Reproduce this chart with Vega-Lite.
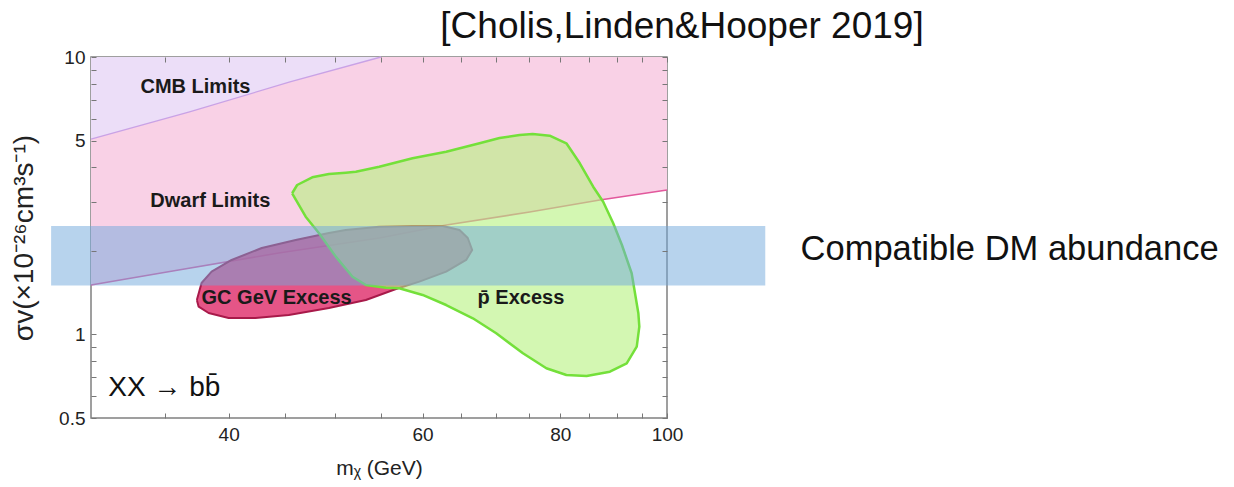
{
  "$schema": "https://vega.github.io/schema/vega-lite/v6.json",
  "width": 576,
  "height": 361,
  "autosize": {"type": "none"},
  "padding": {"left": 91, "top": 57, "right": 567, "bottom": 69},
  "background": "white",
  "title": {"text": "[Cholis,Linden&Hooper 2019]", "fontSize": 37, "font": "Liberation Sans", "fontWeight": "normal", "color": "#111111", "anchor": "middle", "dx": 303, "offset": 2},
  "config": {
    "view": {"stroke": "#808080", "strokeWidth": 1.5},
    "font": "Liberation Sans"
  },
  "resolve": {"axis": {"x": "independent", "y": "independent"}},
  "datasets": {
    "cmb": [
      {"m": 30, "s": 5.06, "hi": 10},
      {"m": 36.86, "s": 6.34, "hi": 10},
      {"m": 45.47, "s": 8.13, "hi": 10},
      {"m": 55.0, "s": 10, "hi": 10}
    ],
    "dwarf": [
      {"m": 30, "s": 1.508, "hi": 10},
      {"m": 36.03, "s": 1.708, "hi": 10},
      {"m": 44.42, "s": 1.966, "hi": 10},
      {"m": 54.8, "s": 2.227, "hi": 10},
      {"m": 63.05, "s": 2.48, "hi": 10},
      {"m": 75.05, "s": 2.763, "hi": 10},
      {"m": 86.9, "s": 3.053, "hi": 10},
      {"m": 100, "s": 3.317, "hi": 10}
    ],
    "gc": [
      {"i": 0, "m": 37.43, "s": 1.331},
      {"i": 1, "m": 37.57, "s": 1.259},
      {"i": 2, "m": 38.36, "s": 1.195},
      {"i": 3, "m": 40.0, "s": 1.147},
      {"i": 4, "m": 42.3, "s": 1.147},
      {"i": 5, "m": 45.36, "s": 1.176},
      {"i": 6, "m": 49.33, "s": 1.246},
      {"i": 7, "m": 53.29, "s": 1.331},
      {"i": 8, "m": 56.75, "s": 1.459},
      {"i": 9, "m": 59.59, "s": 1.55},
      {"i": 10, "m": 63.03, "s": 1.684},
      {"i": 11, "m": 65.72, "s": 1.856},
      {"i": 12, "m": 66.55, "s": 2.016},
      {"i": 13, "m": 65.94, "s": 2.227},
      {"i": 14, "m": 64.81, "s": 2.38},
      {"i": 15, "m": 62.58, "s": 2.46},
      {"i": 16, "m": 58.75, "s": 2.46},
      {"i": 17, "m": 54.8, "s": 2.446},
      {"i": 18, "m": 51.1, "s": 2.38},
      {"i": 19, "m": 49.33, "s": 2.322},
      {"i": 20, "m": 46.02, "s": 2.191},
      {"i": 21, "m": 42.87, "s": 2.05},
      {"i": 22, "m": 40.25, "s": 1.856},
      {"i": 23, "m": 38.6, "s": 1.684},
      {"i": 24, "m": 37.8, "s": 1.533},
      {"i": 25, "m": 37.43, "s": 1.331}
    ],
    "pbar": [
      {"i": 0, "m": 45.68, "s": 3.228},
      {"i": 1, "m": 46.16, "s": 3.457},
      {"i": 2, "m": 47.64, "s": 3.686},
      {"i": 3, "m": 49.33, "s": 3.788},
      {"i": 4, "m": 51.1, "s": 3.83},
      {"i": 5, "m": 52.18, "s": 3.861},
      {"i": 6, "m": 54.8, "s": 4.024},
      {"i": 7, "m": 58.75, "s": 4.315},
      {"i": 8, "m": 63.03, "s": 4.557},
      {"i": 9, "m": 67.58, "s": 4.887},
      {"i": 10, "m": 70.47, "s": 5.107},
      {"i": 11, "m": 73.49, "s": 5.235},
      {"i": 12, "m": 75.52, "s": 5.279},
      {"i": 13, "m": 78.25, "s": 5.205},
      {"i": 14, "m": 81.03, "s": 4.887},
      {"i": 15, "m": 83.34, "s": 4.139},
      {"i": 16, "m": 85.7, "s": 3.409},
      {"i": 17, "m": 87.51, "s": 3.01},
      {"i": 18, "m": 89.37, "s": 2.516},
      {"i": 19, "m": 91.01, "s": 2.101},
      {"i": 20, "m": 92.88, "s": 1.662},
      {"i": 21, "m": 94.19, "s": 1.192},
      {"i": 22, "m": 94.38, "s": 1.067},
      {"i": 23, "m": 93.87, "s": 0.9036},
      {"i": 24, "m": 91.92, "s": 0.7874},
      {"i": 25, "m": 88.75, "s": 0.7345},
      {"i": 26, "m": 84.53, "s": 0.7087},
      {"i": 27, "m": 81.03, "s": 0.7145},
      {"i": 28, "m": 77.71, "s": 0.7554},
      {"i": 29, "m": 74.0, "s": 0.8556},
      {"i": 30, "m": 69.98, "s": 1.01},
      {"i": 31, "m": 66.64, "s": 1.144},
      {"i": 32, "m": 63.03, "s": 1.277},
      {"i": 33, "m": 60.0, "s": 1.388},
      {"i": 34, "m": 57.14, "s": 1.467},
      {"i": 35, "m": 55.57, "s": 1.474},
      {"i": 36, "m": 53.29, "s": 1.508},
      {"i": 37, "m": 51.82, "s": 1.615},
      {"i": 38, "m": 50.04, "s": 1.908},
      {"i": 39, "m": 48.32, "s": 2.316},
      {"i": 40, "m": 46.99, "s": 2.658},
      {"i": 41, "m": 45.68, "s": 3.228}
    ],
    "band": [
      {"m": 27.6, "m2": 122.8, "s": 1.5, "s2": 2.46}
    ],
    "regionLabels": [
      {"m": 33.27, "s": 7.8, "label": "CMB Limits"},
      {"m": 33.96, "s": 3.03, "label": "Dwarf Limits"},
      {"m": 37.8, "s": 1.353, "label": "GC GeV Excess"},
      {"m": 67.3, "s": 1.353, "label": "p̄ Excess"}
    ],
    "channel": [
      {"m": 31.1, "s": 0.6416, "label": "XX → bb̄"}
    ],
    "note": [
      {"m": 132.2, "s": 2.016, "label": "Compatible DM abundance"}
    ]
  },
  "encoding": {
    "x": {
      "field": "m",
      "type": "quantitative",
      "scale": {"type": "log", "domain": [30, 100], "nice": false, "zero": false},
      "axis": null
    },
    "y": {
      "field": "s",
      "type": "quantitative",
      "scale": {"type": "log", "domain": [0.5, 10], "nice": false, "zero": false},
      "axis": null
    }
  },
  "layer": [
    {
      "data": {"name": "dwarf"},
      "mark": {"type": "area", "color": "#f9d1e6", "opacity": 1},
      "encoding": {
        "x": {
          "field": "m",
          "type": "quantitative",
          "scale": {"type": "log", "domain": [30, 100], "nice": false, "zero": false},
          "axis": {
            "orient": "bottom",
            "zindex": 1,
            "values": [35, 40, 45, 50, 55, 60, 65, 70, 75, 80, 85, 90, 95, 100],
            "labelExpr": "datum.value == 40 || datum.value == 60 || datum.value == 80 || datum.value == 100 ? format(datum.value, 'd') : ''",
            "title": "mᵪ (GeV)",
            "domain": false,
            "grid": false,
            "tickSize": -5,
            "tickColor": "#777777",
            "labelPadding": 12,
            "labelFlush": false,
            "labelOverlap": false,
            "labelFontSize": 19,
            "labelColor": "#222222",
            "titleFontSize": 21,
            "titleFontWeight": "normal",
            "titleColor": "#222222",
            "titlePadding": 13
          }
        },
        "y": {
          "field": "s",
          "type": "quantitative",
          "scale": {"type": "log", "domain": [0.5, 10], "nice": false, "zero": false},
          "axis": {
            "orient": "left",
            "zindex": 1,
            "values": [0.5, 0.6, 0.7, 0.8, 0.9, 1, 2, 3, 4, 5, 6, 7, 8, 9, 10],
            "labelExpr": "datum.value == 0.5 || datum.value == 1 || datum.value == 5 || datum.value == 10 ? format(datum.value, '~g') : ''",
            "title": "σv(×10⁻²⁶cm³s⁻¹)",
            "domain": false,
            "grid": false,
            "tickSize": -5,
            "tickColor": "#777777",
            "labelPadding": 11,
            "labelFlush": false,
            "labelOverlap": false,
            "labelFontSize": 19,
            "labelColor": "#222222",
            "titleFontSize": 28,
            "titleFontWeight": "normal",
            "titleColor": "#222222",
            "titlePadding": 20
          }
        },
        "y2": {"field": "hi"}
      }
    },
    {
      "data": {"name": "cmb"},
      "mark": {"type": "area", "color": "#ecdef8", "opacity": 1},
      "encoding": {"y2": {"field": "hi"}}
    },
    {
      "data": {"name": "cmb"},
      "mark": {"type": "line", "color": "#c9a2e6", "strokeWidth": 1.3},
      "encoding": {}
    },
    {
      "data": {"name": "dwarf"},
      "mark": {"type": "line", "color": "#e2589c", "strokeWidth": 1.6},
      "encoding": {
        "x": {
          "field": "m",
          "type": "quantitative",
          "scale": {"type": "log", "domain": [30, 100], "nice": false, "zero": false},
          "axis": {
            "orient": "top",
            "zindex": 1,
            "values": [35, 40, 45, 50, 55, 60, 65, 70, 75, 80, 85, 90, 95, 100],
            "labels": false,
            "title": null,
            "domain": false,
            "grid": false,
            "tickSize": -5,
            "tickColor": "#777777"
          }
        },
        "y": {
          "field": "s",
          "type": "quantitative",
          "scale": {"type": "log", "domain": [0.5, 10], "nice": false, "zero": false},
          "axis": {
            "orient": "right",
            "zindex": 1,
            "values": [0.5, 0.6, 0.7, 0.8, 0.9, 1, 2, 3, 4, 5, 6, 7, 8, 9, 10],
            "labels": false,
            "title": null,
            "domain": false,
            "grid": false,
            "tickSize": -5,
            "tickColor": "#777777"
          }
        }
      }
    },
    {
      "data": {"name": "gc"},
      "mark": {"type": "line", "fill": "#df2f6c", "fillOpacity": 0.82, "stroke": "#a81a4a", "strokeWidth": 2, "strokeJoin": "round"},
      "encoding": {"order": {"field": "i", "type": "quantitative"}}
    },
    {
      "data": {"name": "pbar"},
      "mark": {"type": "line", "fill": "#b6f27e", "fillOpacity": 0.6, "stroke": "#74e03a", "strokeWidth": 2.5, "strokeJoin": "round"},
      "encoding": {"order": {"field": "i", "type": "quantitative"}}
    },
    {
      "data": {"name": "band"},
      "mark": {"type": "rect", "color": "#6fa8dc", "opacity": 0.5, "clip": false},
      "encoding": {"x2": {"field": "m2"}, "y2": {"field": "s2"}}
    },
    {
      "data": {"name": "regionLabels"},
      "mark": {"type": "text", "align": "left", "baseline": "middle", "fontSize": 20, "fontWeight": "bold", "font": "Liberation Sans", "color": "#1a1a1a"},
      "encoding": {"text": {"field": "label"}}
    },
    {
      "data": {"name": "channel"},
      "mark": {"type": "text", "align": "left", "baseline": "middle", "fontSize": 28, "font": "Liberation Sans", "color": "#111111"},
      "encoding": {"text": {"field": "label"}}
    },
    {
      "data": {"name": "note"},
      "mark": {"type": "text", "align": "left", "baseline": "middle", "fontSize": 34.5, "font": "Liberation Sans", "color": "#111111", "clip": false},
      "encoding": {"text": {"field": "label"}}
    }
  ]
}
